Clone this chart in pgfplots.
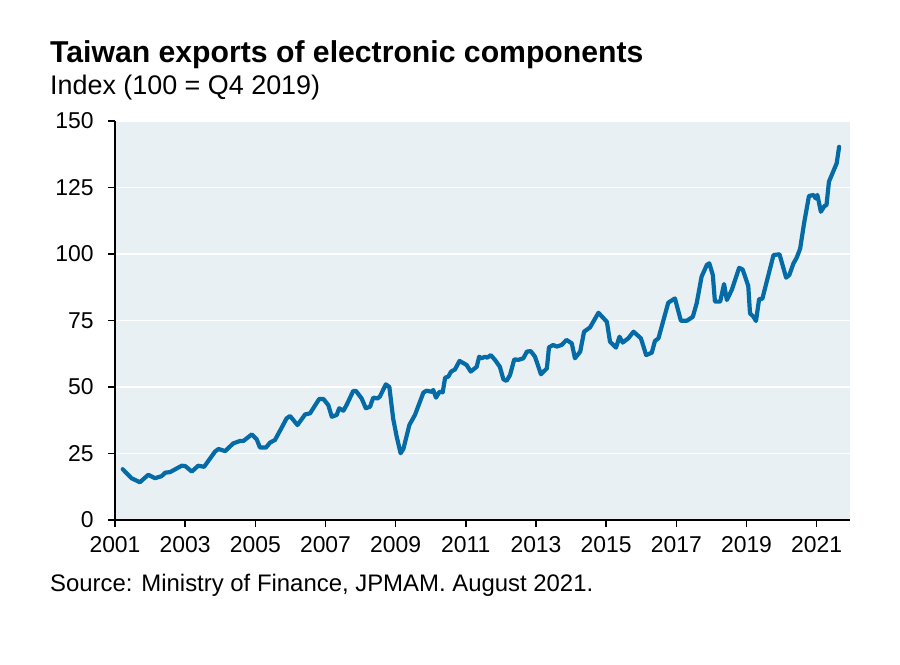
\documentclass[border=0pt]{standalone}
\usepackage{pgfplots}
\pgfplotsset{compat=1.18}
\usepackage{fontspec}
\setmainfont{Liberation Sans}
\definecolor{bgblue}{RGB}{232,240,243}
\definecolor{lineblue}{RGB}{4,107,166}
\begin{document}
\begin{tikzpicture}
\begin{axis}[
  at={(0,0)}, anchor=south west,
  scale only axis, width=735bp, height=399bp,
  xmin=2001, xmax=2021.95, ymin=0, ymax=150,
  axis lines*=left,
  axis line style={black, line width=1.6bp},
  axis background/.style={fill=bgblue},
  xtick={2001,2003,...,2021},
  ytick={0,25,...,150},
  ymajorgrids, grid style={white, line width=1.8bp},
  tick align=outside,
  major tick length=7bp,
  every tick/.style={black, line width=1.6bp},
  /pgf/number format/1000 sep={},
  /pgf/number format/assume math mode=true,
  ticklabel style={font=\fontsize{23}{27}\selectfont},
  yticklabel style={xshift=-11bp},
  xticklabel style={yshift=-6bp},
  clip=false,
]
\addplot[lineblue, line width=4.2bp, line join=round, line cap=round] coordinates {
(2001.22,19.1)(2001.47,15.7)(2001.71,14.2)(2001.95,17.0)(2002.14,15.7)(2002.33,16.5)
(2002.43,17.8)(2002.57,18.0)(2002.90,20.4)(2003.00,20.3)(2003.19,18.2)(2003.37,20.4)
(2003.54,20.0)(2003.85,25.7)(2003.95,26.7)(2004.14,25.9)(2004.37,28.8)(2004.56,29.7)
(2004.66,29.7)(2004.90,32.2)(2005.04,30.3)(2005.13,27.3)(2005.30,27.2)(2005.42,29.1)
(2005.56,30.1)(2005.75,34.7)(2005.89,38.2)(2005.99,39.1)(2006.20,35.7)(2006.42,39.7)
(2006.56,40.1)(2006.82,45.5)(2006.94,45.5)(2007.08,43.2)(2007.18,38.8)(2007.32,39.5)
(2007.39,42.0)(2007.51,41.1)(2007.60,43.2)(2007.79,48.5)(2007.87,48.5)(2008.03,45.7)
(2008.15,42.0)(2008.27,42.6)(2008.36,46.0)(2008.48,45.7)(2008.55,46.4)(2008.72,51.0)
(2008.82,50.0)(2008.93,38.0)(2009.03,31.3)(2009.14,25.1)(2009.22,26.7)(2009.39,35.7)
(2009.55,39.5)(2009.79,47.9)(2009.88,48.6)(2010.03,48.2)(2010.07,48.9)(2010.15,46.0)
(2010.25,48.2)(2010.34,48.0)(2010.41,53.5)(2010.50,53.9)(2010.58,55.8)(2010.69,56.6)
(2010.82,59.8)(2011.02,58.3)(2011.14,55.8)(2011.31,57.6)(2011.38,61.4)(2011.45,60.8)
(2011.55,61.4)(2011.61,61.0)(2011.71,62.0)(2011.83,60.2)(2011.97,57.6)(2012.07,52.9)
(2012.16,52.3)(2012.26,54.5)(2012.38,60.4)(2012.50,60.2)(2012.64,60.8)(2012.74,63.3)
(2012.85,63.5)(2012.97,61.4)(2013.07,57.6)(2013.14,54.8)(2013.31,57.0)(2013.37,64.9)
(2013.49,65.8)(2013.59,65.2)(2013.73,65.8)(2013.87,67.7)(2014.02,66.4)(2014.11,60.8)
(2014.26,63.3)(2014.37,70.8)(2014.54,72.4)(2014.78,77.9)(2015.02,74.5)(2015.11,67.0)
(2015.28,64.8)(2015.38,68.9)(2015.47,66.7)(2015.63,68.3)(2015.78,70.8)(2015.99,68.3)
(2016.14,62.0)(2016.30,62.9)(2016.39,67.3)(2016.49,68.3)(2016.77,81.7)(2016.96,83.3)
(2017.13,74.9)(2017.30,74.9)(2017.47,76.4)(2017.58,81.5)(2017.72,91.5)(2017.87,95.9)
(2017.94,96.5)(2018.04,92.1)(2018.10,82.1)(2018.25,82.1)(2018.36,88.7)(2018.44,82.7)
(2018.58,86.5)(2018.79,94.8)(2018.89,94.2)(2019.05,88.0)(2019.10,77.7)(2019.20,76.4)
(2019.27,74.8)(2019.36,83.1)(2019.45,83.1)(2019.77,99.6)(2019.94,99.9)(2020.13,91.1)
(2020.22,92.1)(2020.34,96.5)(2020.43,98.6)(2020.53,102.1)(2020.64,111.5)(2020.78,121.8)
(2020.91,122.2)(2020.97,120.9)(2021.02,122.2)(2021.12,115.9)(2021.22,118.0)(2021.28,118.4)
(2021.35,127.2)(2021.57,134.1)(2021.64,140.3)
};
\end{axis}
\node[anchor=base west, inner sep=0pt, font=\bfseries\fontsize{30.3}{35}\selectfont] at (-65bp,457.3bp) {Taiwan exports of electronic components};
\node[anchor=base west, inner sep=0pt, font=\fontsize{27}{31}\selectfont] at (-65bp,425bp) {Index (100 = Q4 2019)};
\node[anchor=base west, inner sep=0pt, font=\fontsize{24}{28}\selectfont] at (-65bp,-71bp) {Source: Ministry of Finance, JPMAM. August 2021.};
\path[use as bounding box] (-115bp,-145bp) rectangle (785bp,520bp);
\end{tikzpicture}
\end{document}
